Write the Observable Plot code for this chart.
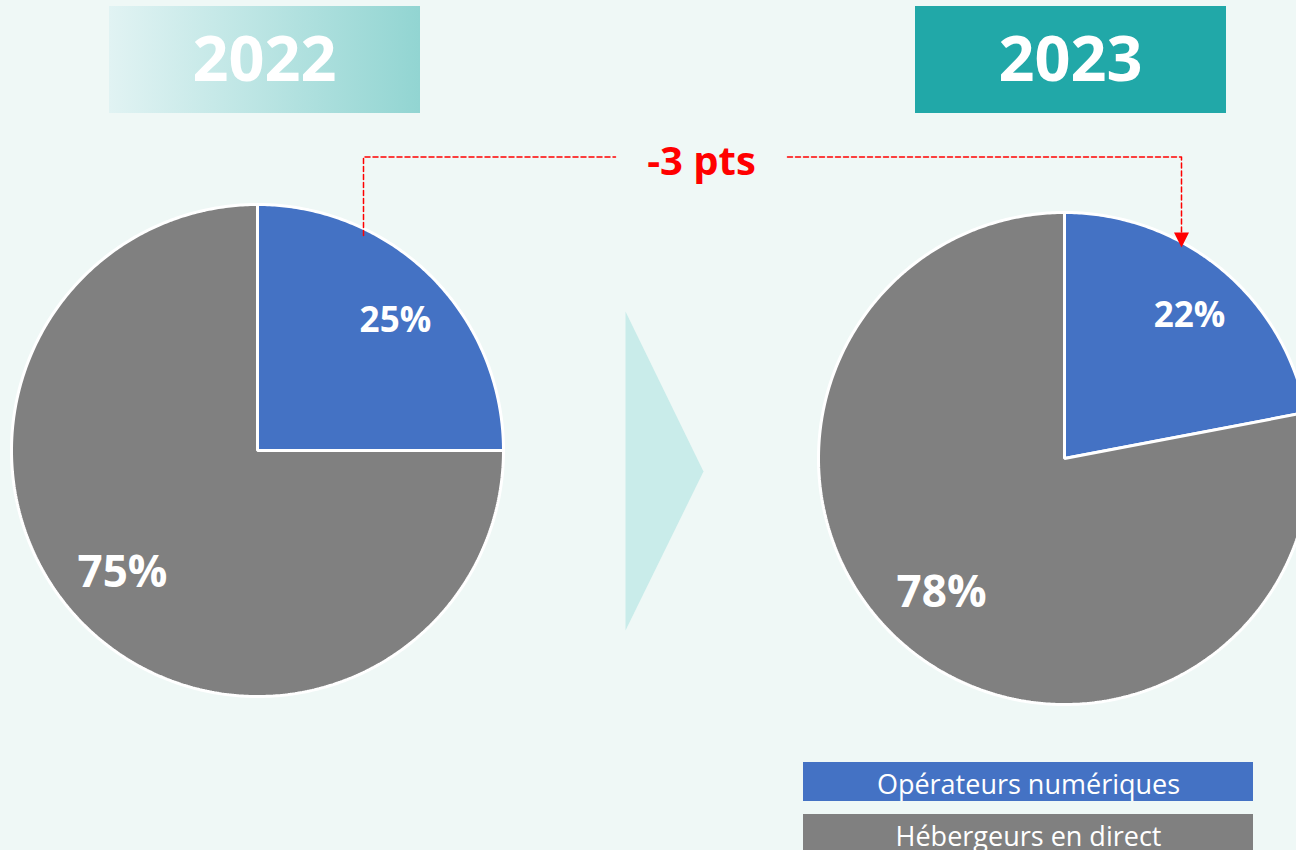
<!DOCTYPE html>
<html><head><meta charset="utf-8">
<script src="https://cdn.jsdelivr.net/npm/d3@7"></script>
<script src="https://cdn.jsdelivr.net/npm/@observablehq/plot@0.6"></script>
<style>html,body{margin:0;padding:0;background:#eff8f6;overflow:hidden}</style>
</head><body><div id="chart"></div>
<script>
// ---- data ----
const years = ["2022", "2023"];
const categories = ["Opérateurs numériques", "Hébergeurs en direct"];
const shares2022 = [25, 75];
const shares2023 = [22, 78];
const changeLabel = "-3 pts";
const colors = ["#4472c4", "#808080"];

// ---- layout (pixels) ----
const W = 1296, H = 850;
const pies = [
  {year: years[0], values: shares2022, cx: 257, cy: 450, r: 246},
  {year: years[1], values: shares2023, cx: 1064, cy: 458, r: 246}
];
const headers = [
  {year: years[0], x1: 109, x2: 420, y1: 6, y2: 113, fill: "url(#g2022)", tx: 264, ty: 80},
  {year: years[1], x1: 915, x2: 1226, y1: 6, y2: 113, fill: "#21a8a8", tx: 1070, ty: 80}
];

// slice polygons
function slicePoly(p, i) {
  const total = d3.sum(p.values);
  const start = d3.sum(p.values.slice(0, i)) / total * 2 * Math.PI;
  const end = d3.sum(p.values.slice(0, i + 1)) / total * 2 * Math.PI;
  const n = Math.max(2, Math.ceil((end - start) / 0.01));
  const pts = [{x: p.cx, y: p.cy}];
  for (let k = 0; k <= n; k++) {
    const a = start + (end - start) * k / n;
    pts.push({x: p.cx + p.r * Math.sin(a), y: p.cy - p.r * Math.cos(a)});
  }
  return pts;
}
function labelPos(p, i) {
  const total = d3.sum(p.values);
  const start = d3.sum(p.values.slice(0, i)) / total * 2 * Math.PI;
  const end = d3.sum(p.values.slice(0, i + 1)) / total * 2 * Math.PI;
  const a = (start + end) / 2 + (i === 0 ? 0.03 : 0.05);
  const rr = p.r * (i === 0 ? 0.77 : 0.74);
  return {x: p.cx + rr * Math.sin(a), y: p.cy - rr * Math.cos(a),
          text: p.values[i] + "%", size: p.values[i] < 50 ? 35 : 44};
}

const sliceMarks = [];
const labels = [];
pies.forEach(p => {
  p.values.forEach((v, i) => {
    sliceMarks.push(Plot.line(slicePoly(p, i), {
      x: "x", y: "y", curve: "linear-closed", fill: colors[i],
      stroke: "white", strokeWidth: 3, strokeLinejoin: "miter"
    }));
    labels.push(labelPos(p, i));
  });
});

const chevron = [{x: 625, y: 311}, {x: 703, y: 471}, {x: 625, y: 630}];
const dashLeft = [{x: 363, y: 235}, {x: 363, y: 156.5}, {x: 615, y: 156.5}];
const dashRight = [{x: 787, y: 156.5}, {x: 1181, y: 156.5}, {x: 1181, y: 235}];
const arrowHead = [{x: 1173.5, y: 232}, {x: 1188.5, y: 232}, {x: 1181, y: 247}];

const legend = categories.map((c, i) => ({
  label: c, fill: colors[i], x1: 803, x2: 1253, y1: 762 + i * 52, y2: 801 + i * 52, ty: 793 + i * 52
}));

const defs = () => {
  const ns = "http://www.w3.org/2000/svg";
  const d = document.createElementNS(ns, "defs");
  const g = document.createElementNS(ns, "linearGradient");
  g.setAttribute("id", "g2022");
  g.setAttribute("x1", "0"); g.setAttribute("x2", "1");
  g.setAttribute("y1", "0"); g.setAttribute("y2", "0");
  [["0%", "#e1f3f3"], ["100%", "#92d5d2"]].forEach(([o, c]) => {
    const s = document.createElementNS(ns, "stop");
    s.setAttribute("offset", o); s.setAttribute("stop-color", c);
    g.appendChild(s);
  });
  d.appendChild(g);
  return d;
};

const font = "'Open Sans', 'Noto Sans', sans-serif";

const chart = Plot.plot({
  width: W, height: H,
  margin: 0,
  x: {domain: [0, W], range: [0, W], axis: null},
  y: {domain: [0, H], range: [0, H], axis: null},
  style: {background: "#eff8f6", fontFamily: font, overflow: "hidden"},
  marks: [
    defs,
    Plot.rect(headers, {x1: "x1", x2: "x2", y1: "y1", y2: "y2", fill: d => d.fill}),
    Plot.text(headers, {x: "tx", y: "ty", text: "year", fill: "white", fontSize: 63,
      fontWeight: "bold", lineAnchor: "bottom", fontFamily: font}),
    Plot.line(chevron, {x: "x", y: "y", curve: "linear-closed", fill: "#c9ecea", stroke: "none"}),
    ...sliceMarks,
    Plot.text(labels, {x: "x", y: "y", text: "text", fontSize: "size", fill: "white",
      fontWeight: "bold", fontFamily: font}),
    Plot.line(dashLeft, {x: "x", y: "y", stroke: "red", strokeWidth: 1.5, strokeDasharray: "5,3"}),
    Plot.line(dashRight, {x: "x", y: "y", stroke: "red", strokeWidth: 1.5, strokeDasharray: "5,3"}),
    Plot.line(arrowHead, {x: "x", y: "y", curve: "linear-closed", fill: "red", stroke: "none"}),
    Plot.text([changeLabel], {x: 701, y: 174, text: d => d, fill: "red", fontSize: 40,
      fontWeight: "bold", lineAnchor: "bottom", fontFamily: font}),
    Plot.rect(legend, {x1: "x1", x2: "x2", y1: "y1", y2: "y2", fill: d => d.fill}),
    Plot.text(legend, {x: 1028, y: "ty", text: "label", fill: "white", fontSize: 27,
      lineAnchor: "bottom", fontFamily: font})
  ]
});
document.getElementById("chart").appendChild(chart);
</script>
</body></html>
